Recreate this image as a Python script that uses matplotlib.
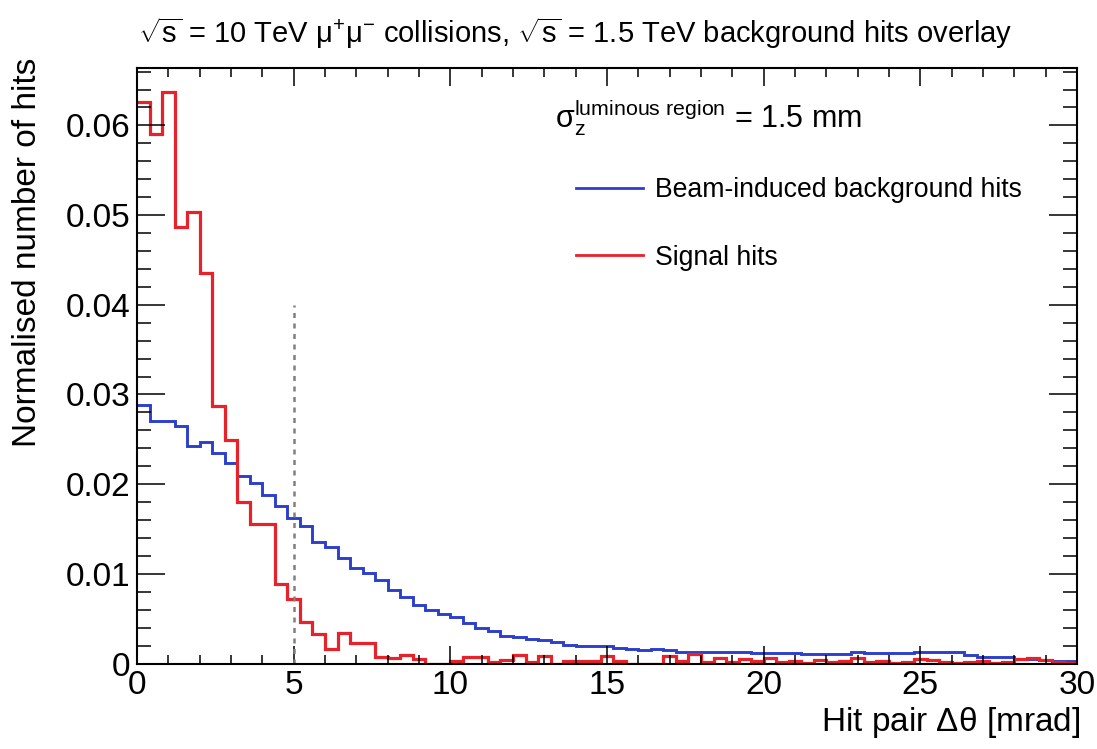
import numpy as np
import matplotlib
matplotlib.use("Agg")
import matplotlib.pyplot as plt
from matplotlib.lines import Line2D

# ---- data -------------------------------------------------------------
x_min, x_max, n_bins = 0.0, 30.0, 75

signal_hits = [
    0.0626, 0.0590, 0.0637, 0.0487, 0.0503, 0.0435, 0.0287, 0.0249, 0.0180, 0.0156,
    0.0156, 0.0089, 0.0072, 0.0046, 0.0033, 0.0016, 0.0034, 0.0023, 0.0023, 0.0007,
    0.0006, 0.0010, 0.0005, 0.0000, 0.0000, 0.0003, 0.0007, 0.0007, 0.0002, 0.0004,
    0.0010, 0.0002, 0.0008, 0.0000, 0.0003, 0.0003, 0.0003, 0.0008, 0.0003, 0.0000,
    0.0000, 0.0000, 0.0008, 0.0003, 0.0011, 0.0002, 0.0006, 0.0002, 0.0005, 0.0003,
    0.0006, 0.0002, 0.0003, 0.0001, 0.0004, 0.0002, 0.0003, 0.0006, 0.0002, 0.0003,
    0.0001, 0.0002, 0.0005, 0.0004, 0.0002, 0.0001, 0.0002, 0.0003, 0.0001, 0.0002,
    0.0005, 0.0006, 0.0004, 0.0002, 0.0001,
]

background_hits = [
    0.0288, 0.0270, 0.0270, 0.0265, 0.0243, 0.0247, 0.0235, 0.0224, 0.0209, 0.0201,
    0.0188, 0.0176, 0.0162, 0.0153, 0.0135, 0.0130, 0.0118, 0.0107, 0.0101, 0.0093,
    0.0082, 0.0074, 0.0065, 0.0060, 0.0055, 0.0052, 0.0045, 0.0040, 0.0036, 0.0031,
    0.0029, 0.0027, 0.0026, 0.0024, 0.0021, 0.0020, 0.0020, 0.0019, 0.0017, 0.0016,
    0.0015, 0.0016, 0.0015, 0.0013, 0.0013, 0.0013, 0.0013, 0.0013, 0.0013, 0.0012,
    0.0012, 0.0012, 0.0012, 0.0011, 0.0011, 0.0011, 0.0011, 0.0013, 0.0012, 0.0012,
    0.0012, 0.0012, 0.0013, 0.0013, 0.0013, 0.0013, 0.0009, 0.0007, 0.0007, 0.0007,
    0.0005, 0.0005, 0.0004, 0.0003, 0.0003,
]

cut_value = 5.0
cut_top = 0.04

x_ticks = [0, 5, 10, 15, 20, 25, 30]
y_ticks = [0, 0.01, 0.02, 0.03, 0.04, 0.05, 0.06]
y_tick_labels = ["0", "0.01", "0.02", "0.03", "0.04", "0.05", "0.06"]

# ---- style ------------------------------------------------------------
plt.rcParams["font.family"] = ["Liberation Sans", "DejaVu Sans"]
plt.rcParams["mathtext.fontset"] = "custom"
plt.rcParams["mathtext.rm"] = "Liberation Sans"
plt.rcParams["mathtext.it"] = "Liberation Sans"
plt.rcParams["mathtext.bf"] = "Liberation Sans:bold"

W, H = 1097, 749
fig = plt.figure(figsize=(W / 100, H / 100), dpi=100)
ax = fig.add_axes([137 / W, (H - 663.5) / H, 940 / W, (663.5 - 68) / H])

edges = np.linspace(x_min, x_max, n_bins + 1)
blue = "#2b3fcc"
red = "#e8222a"
ax.stairs(background_hits, edges, color=blue, lw=2.1, baseline=None)
ax.stairs(signal_hits, edges, color=red, lw=2.3, baseline=None)
ax.plot([cut_value, cut_value], [0, cut_top], color="#808080", lw=1.8,
        ls=(0, (2, 2.2)))

ax.set_xlim(x_min, x_max)
ax.set_ylim(0, 0.0664)
ax.set_xticks(x_ticks)
ax.set_xticklabels([str(t) for t in x_ticks])
ax.set_yticks(y_ticks)
ax.set_yticklabels(y_tick_labels)
ax.set_xticks(np.arange(0, 30.01, 1.0), minor=True)
ax.set_yticks(np.arange(0, 0.0661, 0.002), minor=True)

for s in ax.spines.values():
    s.set_linewidth(1.5)
ax.tick_params(axis="both", which="both", direction="in", top=True, right=True,
               width=1.1, labelsize=24, colors="black")
ax.tick_params(axis="y", which="major", length=20, pad=5)
ax.tick_params(axis="y", which="minor", length=10)
ax.tick_params(axis="x", which="major", length=13, pad=5)
ax.tick_params(axis="x", which="minor", length=6.5)

# ---- texts ------------------------------------------------------------
fig.text(575 / W, (H - 33) / H,
         r"$\sqrt{\mathregular{s}}$ = 10 TeV $\mathregular{\mu^{+}\mu^{-}}$ collisions, "
         r"$\sqrt{\mathregular{s}}$ = 1.5 TeV background hits overlay",
         ha="center", va="center", fontsize=21)
fig.text(28 / W, (H - 58) / H, "Normalised number of hits", rotation=90,
         ha="center", va="top", fontsize=24)
fig.text(1080 / W, (H - 722) / H, r"Hit pair $\mathregular{\Delta\theta}$ [mrad]",
         ha="right", va="center", fontsize=24)
fig.text(555 / W, (H - 118) / H,
         r"$\mathregular{\sigma_{z}^{luminous\ region}}$ = 1.5 mm",
         ha="left", va="center", fontsize=22)

handles = [Line2D([], [], color=blue, lw=2.0), Line2D([], [], color=red, lw=2.0)]
ax.legend(handles, ["Beam-induced background hits", "Signal hits"],
          loc="upper left", bbox_to_anchor=(563 / W, (H - 164) / H),
          bbox_transform=fig.transFigure, frameon=False, fontsize=19.2,
          handlelength=2.5, handletextpad=0.45, labelspacing=1.55, borderpad=0)

fig.savefig("out.png", dpi=100)
